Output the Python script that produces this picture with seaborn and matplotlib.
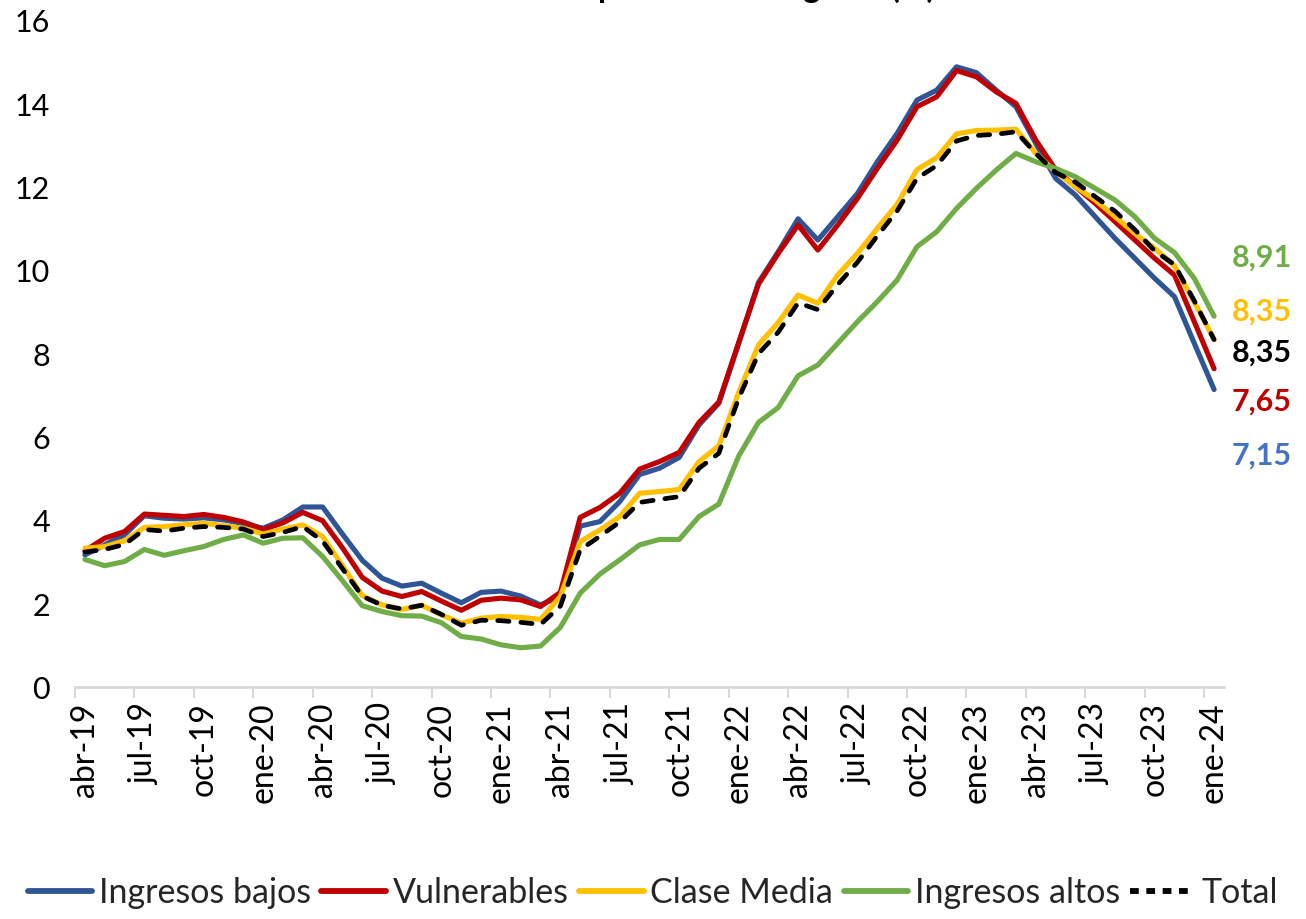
import numpy as np
import pandas as pd
import matplotlib
matplotlib.use("Agg")
import matplotlib.pyplot as plt
import seaborn as sns
from matplotlib.lines import Line2D

# ---------------- data ----------------
meses = ["ene", "feb", "mar", "abr", "may", "jun", "jul", "ago", "sep", "oct", "nov", "dic"]
periodos = [f"{meses[m]}-{str(y)[2:]}" for y in range(2019, 2025) for m in range(12)][3:61]

ingresos_bajos = [3.18, 3.42, 3.66, 4.12, 4.06, 4.04, 4.07, 4.02, 3.93, 3.82, 4.02, 4.33,
                  4.33, 3.68, 3.05, 2.62, 2.43, 2.50, 2.26, 2.03, 2.28, 2.31, 2.19, 1.98,
                  2.18, 3.87, 3.98, 4.46, 5.11, 5.26, 5.52, 6.30, 6.82, 8.25, 9.72, 10.46,
                  11.25, 10.74, 11.30, 11.86, 12.62, 13.30, 14.10, 14.34, 14.90, 14.76, 14.34,
                  13.94, 13.06, 12.22, 11.82, 11.30, 10.78, 10.30, 9.82, 9.38, 8.26, 7.15]
vulnerables = [3.28, 3.58, 3.74, 4.16, 4.13, 4.10, 4.15, 4.08, 3.97, 3.79, 3.95, 4.20,
               4.00, 3.35, 2.64, 2.31, 2.18, 2.30, 2.07, 1.85, 2.09, 2.14, 2.10, 1.94,
               2.28, 4.08, 4.32, 4.66, 5.24, 5.42, 5.64, 6.36, 6.85, 8.28, 9.68, 10.42,
               11.10, 10.50, 11.10, 11.74, 12.46, 13.14, 13.94, 14.18, 14.81, 14.66, 14.30,
               14.02, 13.14, 12.43, 12.02, 11.62, 11.18, 10.74, 10.30, 9.90, 8.78, 7.65]
clase_media = [3.34, 3.38, 3.52, 3.84, 3.86, 3.90, 3.94, 3.88, 3.82, 3.68, 3.80, 3.90,
               3.62, 2.92, 2.20, 1.98, 1.87, 1.97, 1.74, 1.54, 1.66, 1.70, 1.68, 1.63,
               2.18, 3.50, 3.78, 4.10, 4.66, 4.70, 4.75, 5.42, 5.80, 7.08, 8.22, 8.76,
               9.42, 9.22, 9.90, 10.42, 11.02, 11.60, 12.43, 12.72, 13.29, 13.37, 13.38,
               13.40, 12.82, 12.38, 12.02, 11.70, 11.30, 10.90, 10.54, 10.12, 9.25, 8.35]
ingresos_altos = [3.07, 2.92, 3.02, 3.31, 3.17, 3.28, 3.38, 3.55, 3.66, 3.46, 3.58, 3.59,
                  3.14, 2.56, 1.96, 1.82, 1.72, 1.71, 1.55, 1.22, 1.16, 1.02, 0.95, 0.99,
                  1.44, 2.26, 2.72, 3.06, 3.42, 3.55, 3.55, 4.10, 4.40, 5.55, 6.36, 6.72,
                  7.48, 7.74, 8.26, 8.78, 9.26, 9.78, 10.58, 10.94, 11.50, 11.98, 12.42,
                  12.82, 12.62, 12.46, 12.26, 11.98, 11.70, 11.30, 10.78, 10.44, 9.82, 8.91]
total = [3.25, 3.31, 3.43, 3.79, 3.75, 3.82, 3.86, 3.84, 3.80, 3.62, 3.72, 3.86,
         3.51, 2.85, 2.19, 1.97, 1.88, 1.97, 1.75, 1.49, 1.61, 1.60, 1.56, 1.51,
         1.95, 3.30, 3.63, 3.97, 4.44, 4.51, 4.58, 5.26, 5.62, 6.94, 8.01, 8.53,
         9.23, 9.07, 9.67, 10.21, 10.84, 11.44, 12.22, 12.53, 13.12, 13.25, 13.28,
         13.34, 12.82, 12.36, 12.13, 11.78, 11.43, 10.99, 10.48, 10.15, 9.28, 8.35]

series_names = ["Ingresos bajos", "Vulnerables", "Clase Media", "Ingresos altos", "Total"]
series_values = [ingresos_bajos, vulnerables, clase_media, ingresos_altos, total]
line_colors = ["#2F5597", "#C00000", "#FFC000", "#70AD47", "#000000"]
label_colors = ["#4472C4", "#C00000", "#FFC000", "#70AD47", "#000000"]
# vertical pixel (from top) of end labels
label_px_y = [456, 402, 312, 258, 353]

df = pd.DataFrame({"idx": np.arange(len(periodos)), "periodo": periodos})
for n, v in zip(series_names, series_values):
    df[n] = v

# ---------------- style ----------------
sns.set_theme(style="white")
plt.rcParams["font.family"] = ["Lato", "DejaVu Sans"]

W, H = 1306, 919
fig = plt.figure(figsize=(W / 100, H / 100), dpi=100)
ax = fig.add_axes([75 / W, (H - 687.3) / H, (1224 - 75) / W, (687.3 - 21) / H])

handles = []
for n, c in zip(series_names, line_colors):
    if n == "Total":
        sns.lineplot(data=df, x="idx", y=n, ax=ax, color=c, linewidth=3.4,
                     linestyle=(0, (2.4, 2.5)), dash_capstyle="round", zorder=5)
        handles.append(Line2D([], [], color=c, linewidth=4.2,
                              linestyle=(0, (1.5, 1.3)), dash_capstyle="butt"))
    else:
        sns.lineplot(data=df, x="idx", y=n, ax=ax, color=c, linewidth=3.7,
                     solid_capstyle="round", zorder=3)
        handles.append(Line2D([], [], color=c, linewidth=4.2))

ax.set_xlim(-0.5, len(periodos) - 0.5)
ax.set_ylim(0, 16)
ax.set_xlabel("")
ax.set_ylabel("")

ax.set_yticks(range(0, 17, 2))
ax.set_yticklabels([str(v) for v in range(0, 17, 2)], fontsize=22, color="#000000")
ax.tick_params(axis="y", length=0, pad=18)

xt = list(range(0, len(periodos), 3))
ax.set_xticks(xt)
ax.set_xticklabels([periodos[i] for i in xt], rotation=90, fontsize=23,
                   color="#000000", va="top", ha="center")
ax.tick_params(axis="x", which="major", length=0, pad=11)
ax.set_xticks(np.arange(-0.5, len(periodos) - 1, 3), minor=True)
ax.tick_params(axis="x", which="minor", length=8, width=1.5, color="#D9D9D9",
               direction="out", bottom=True)

for s in ["left", "top", "right"]:
    ax.spines[s].set_visible(False)
ax.spines["bottom"].set_color("#D9D9D9")
ax.spines["bottom"].set_linewidth(2)
ax.grid(False)

# end labels
for v, c, py in zip(series_values, label_colors, label_px_y):
    ax.annotate(f"{v[-1]:.2f}".replace(".", ","), xy=(len(periodos) - 1, v[-1]),
                xycoords="data", xytext=(1262, H - py), textcoords="figure pixels",
                ha="center", va="center", fontsize=22, fontweight="bold", color=c)

# title (cropped at top in the reference)
fig.text(0.503, 1.0 + 2 / H, "Inflación anual por nivel de ingreso (%)", ha="center",
         va="baseline", fontsize=23.5, fontweight="bold", color="#000000")

fig.legend(handles, series_names, loc="center", bbox_to_anchor=(0.5, 26 / H), ncol=5,
           frameon=False, fontsize=24.5, handlelength=1.9, handletextpad=0.2,
           columnspacing=0.3, borderaxespad=0, borderpad=0)

fig.savefig("out.png", dpi=100)
